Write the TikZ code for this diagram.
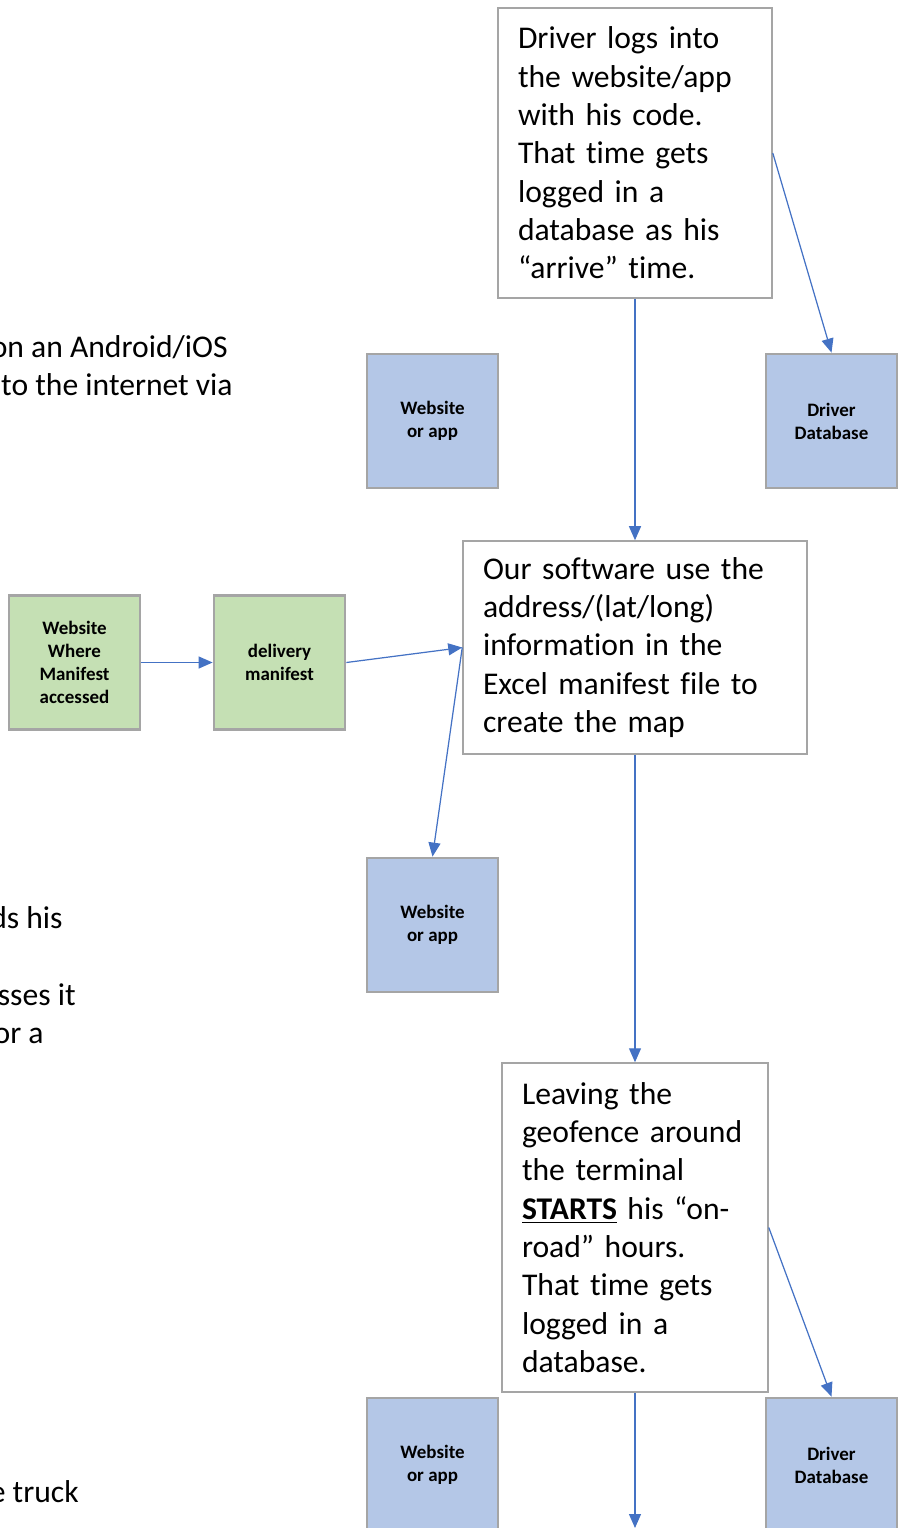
\documentclass[tikz,border=0pt]{standalone}
\usepackage{fontspec}
\setmainfont{Carlito}[Ligatures=NoCommon]
\usetikzlibrary{arrows.meta}
\definecolor{flowblue}{HTML}{4472C4}
\definecolor{boxgray}{HTML}{A5A5A5}
\definecolor{appfill}{HTML}{B4C7E7}
\definecolor{sitefill}{HTML}{C5E0B4}
\tikzset{
  smallbox/.style={draw=boxgray, line width=1.6pt, minimum width=2.62cm, minimum height=2.68cm,
    inner sep=0pt, align=center, font=\fontsize{10.8}{13}\selectfont\bfseries},
  bluebox/.style={smallbox, fill=appfill},
  greenbox/.style={smallbox, fill=sitefill},
  notebox/.style={draw=boxgray, line width=0.9pt, inner xsep=0.4cm, inner ysep=0pt, align=left,
    font=\fontsize{18}{21.8}\selectfont},
  flow/.style={draw=flowblue, line width=0.7pt, -{Triangle[length=0.28cm, width=0.24cm]}},
  sidetext/.style={anchor=mid east, inner sep=0pt, font=\fontsize{18}{21.8}\selectfont}
}
\begin{document}
\begin{tikzpicture}[x=0.02cm, y=-0.02cm]
  \clip (0,0) rectangle (903,1528);
  \node[notebox, text width=4.68cm, minimum height=5.8cm] (log) at (635,153)
    {Driver logs into\\the website/app\\with his code.\\That time gets\\logged in a\\database as his\\“arrive” time.};
  \node[bluebox] (appA) at (432.5,421) {Website\\or app};
  \node[bluebox] (dbA) at (831.5,421) {Driver\\Database};
  \node[notebox, text width=6.08cm, minimum height=4.26cm] (soft) at (635,647.5)
    {Our software use the\\address/(lat/long)\\information in the\\Excel manifest file to\\create the map};
  \node[greenbox] (siteM) at (74.5,662.5) {Website\\Where\\Manifest\\accessed};
  \node[greenbox] (manifest) at (279.5,662.5) {delivery\\manifest};
  \node[bluebox] (appB) at (432.5,925) {Website\\or app};
  \node[notebox, text width=4.52cm, minimum height=6.58cm] (geo) at (635,1227.5)
    {Leaving the\\geofence around\\the terminal\\\underline{\textbf{STARTS}} his “on-\\road” hours.\\That time gets\\logged in a\\database.};
  \node[bluebox] (appC) at (432.5,1465) {Website\\or app};
  \node[bluebox] (dbB) at (831.5,1465) {Driver\\Database};
  \coordinate (next) at (635,1528);

  \node[sidetext] (t1) at (228,353) {on an Android/iOS};
  \node[sidetext] (t2) at (233,391) {to the internet via};
  \node[sidetext] (t3) at (63,924) {ds his};
  \node[sidetext] (t4) at (76,1001) {sses it};
  \node[sidetext] (t5) at (44,1039) {or a};
  \node[sidetext] (t6) at (79,1498) {e truck};

  \draw[flow] (log.south) -- (soft.north);
  \draw[flow] (log.east) -- (dbA.north);
  \draw[flow] (siteM.east) -- (manifest.west);
  \draw[flow] (manifest.east) -- (soft.west);
  \draw[flow] (soft.west) -- (appB.north);
  \draw[flow] (soft.south) -- (geo.north);
  \draw[flow] (geo.east) -- (dbB.north);
  \draw[flow] (geo.south) -- (next);
\end{tikzpicture}
\end{document}
